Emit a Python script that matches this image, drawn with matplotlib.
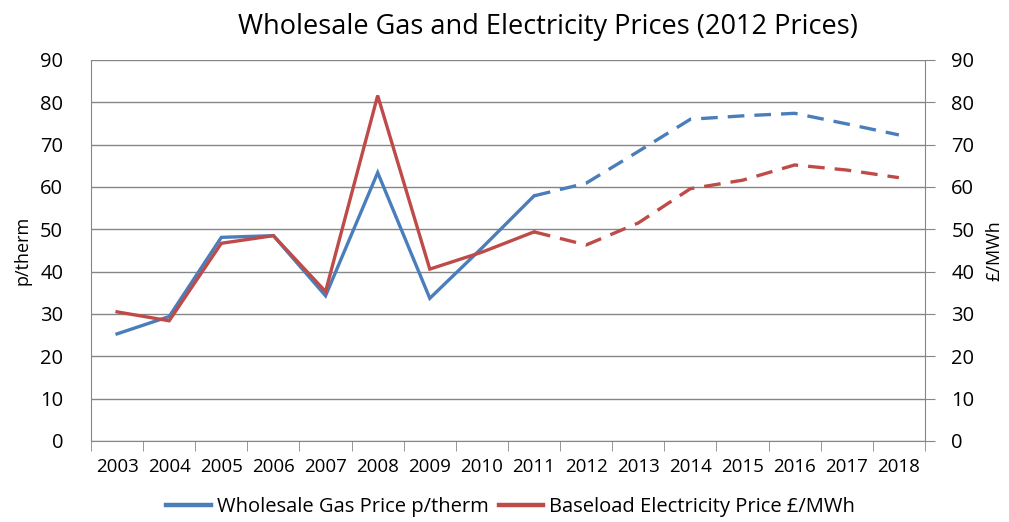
import numpy as np
import matplotlib.pyplot as plt
from matplotlib.lines import Line2D

years = [str(y) for y in range(2003, 2019)]
gas_price = [25.3, 29.4, 48.1, 48.5, 34.3, 63.4, 33.7, 45.6, 57.9,
             60.9, 68.4, 76.0, 76.8, 77.4, 74.9, 72.3]
elec_price = [30.5, 28.4, 46.7, 48.5, 35.3, 81.6, 40.6, 44.6, 49.4,
              46.3, 51.5, 59.6, 61.6, 65.2, 64.0, 62.2]
last_actual = 8  # 2011, forecasts after this

blue = '#4A7EBB'
red = '#BE4B48'
grid_c = '#868686'

plt.rcParams['font.family'] = ['Open Sans', 'DejaVu Sans']

fig = plt.figure(figsize=(10.09, 5.22), dpi=100)
ax = fig.add_axes([0.0902, 0.1552, 0.8265, 0.7299])
x = np.arange(len(years))

# actual (solid) and projected (dashed)
ax.plot(x[:last_actual + 1], gas_price[:last_actual + 1], color=blue, lw=2.4, solid_joinstyle='miter')
ax.plot(x[last_actual:], gas_price[last_actual:], color=blue, lw=2.4, dashes=(5, 3))
ax.plot(x[:last_actual + 1], elec_price[:last_actual + 1], color=red, lw=2.4, solid_joinstyle='miter')
ax.plot(x[last_actual:], elec_price[last_actual:], color=red, lw=2.4, dashes=(5, 3))

ax.set_xlim(-0.5, len(years) - 0.5)
ax.set_ylim(0, 90)
ax.set_yticks(np.arange(0, 91, 10))
ax.yaxis.grid(True, color=grid_c, lw=1)
ax.set_axisbelow(True)
ax.set_xticks(x)
ax.set_xticklabels(years, fontsize=13.5)
ax.set_xticks(np.arange(-0.5, len(years)), minor=True)
ax.tick_params(axis='x', which='major', length=0, pad=12)
ax.tick_params(axis='x', which='minor', length=7, color=grid_c, direction='out')
ax.tick_params(axis='y', length=0, labelsize=14.5, pad=20)
for s in ['top', 'right']:
    ax.spines[s].set_visible(False)
for s in ['left', 'bottom']:
    ax.spines[s].set_color(grid_c)
ax.set_ylabel('p/therm', fontsize=13, labelpad=6)

ax2 = ax.twinx()
ax2.set_ylim(0, 90)
ax2.set_yticks(np.arange(0, 91, 10))
ax2.tick_params(axis='y', length=7, color=grid_c, labelsize=14.5, pad=12)
for s in ['top', 'left', 'bottom']:
    ax2.spines[s].set_visible(False)
ax2.spines['right'].set_color(grid_c)
ax2.set_ylabel('£/MWh', fontsize=13, labelpad=8)

fig.text(0.543, 0.948, 'Wholesale Gas and Electricity Prices (2012 Prices)',
         ha='center', va='center', fontsize=19.5)

handles = [Line2D([], [], color=blue, lw=3.2), Line2D([], [], color=red, lw=3.2)]
fig.legend(handles, ['Wholesale Gas Price p/therm', 'Baseload Electricity Price £/MWh'],
           loc='center', bbox_to_anchor=(0.506, 0.028), ncol=2, frameon=False,
           fontsize=14.5, handlelength=2.2, columnspacing=0.5, handletextpad=0.3)

fig.savefig('out.png', dpi=100)
